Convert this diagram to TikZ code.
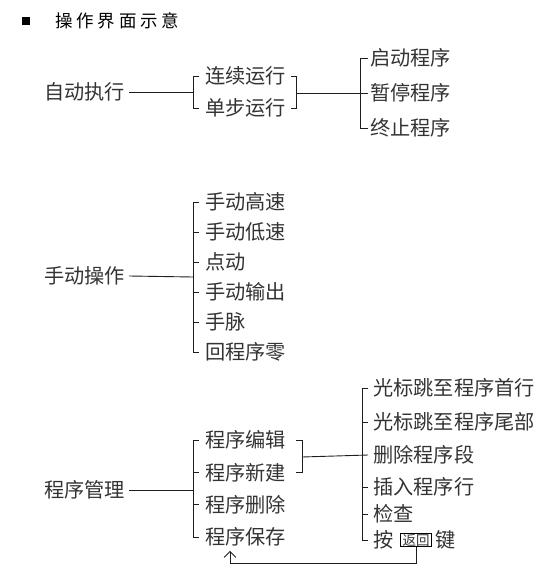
\documentclass[tikz,border=0pt]{standalone}
\usepackage{fontspec}
\newfontfamily\cjk{Noto Sans CJK SC}
\newfontfamily\cjkhead[LetterSpace=22]{Noto Sans CJK SC}
\usetikzlibrary{positioning,calc,arrows,arrows.meta}
\definecolor{ink}  {HTML}{333333}
\definecolor{wire} {HTML}{1E1E1E}
\tikzset{
  >={Straight Barb[length=6pt,width=12pt,line width=0.9pt]},
  every node/.style={inner sep=0pt},
  % --- nodes
  item/.style   = {anchor=west, font=\cjk\fontsize{20.2}{21}\selectfont, text=ink},
  head/.style   = {anchor=west, font=\cjkhead\fontsize{17.5}{18}\selectfont, text=black},
  keybox/.style = {draw=black, line width=1pt, inner xsep=2pt, inner ysep=0.6pt,
                   font=\cjk\fontsize{13.5}{14}\selectfont, text=ink},
  % --- edges
  w/.style      = {draw=wire, line width=0.9pt},
  wa/.style     = {w, ->},
}
\begin{document}
\begin{tikzpicture}[x=1pt,y=-1pt]
  \useasboundingbox (0,0) rectangle (554,575);
  % title
  \node[fill=black, minimum size=8pt] (sq) at (26,21) {};
  \node[head] (ttl) at (55,21) {操作界面示意};

  % auto run
  \node[item] (zdzx) at (44,92) {自动执行};
  \node[item] (lxyx) at (205,76) {连续运行};
  \node[item] (dbyx) at (205,108) {单步运行};
  \node[item] (qdcx) at (370,58) {启动程序};
  \node[item] (ztcx) at (370,93) {暂停程序};
  \node[item] (zzcx) at (370,128) {终止程序};
  \coordinate (s1) at (193,92);
  \coordinate (r1) at (296,93);
  \draw[w] ([xshift=4pt]zdzx.east) -- (s1);
  \draw[w] ([xshift=-6pt]lxyx.west) -- ++(-6,0) |- ([xshift=-6pt]dbyx.west);
  \draw[w] ([xshift=5pt]lxyx.east) -- (r1 |- lxyx.east) |- ([xshift=5pt]dbyx.east);
  \draw[w] (r1) -- ([xshift=-2pt]ztcx.west);
  \draw[w] ([xshift=-2pt]qdcx.west) -- ++(-8,0) |- ([xshift=-2pt]zzcx.west);

  % manual
  \node[item] (sdcz) at (44,276) {手动操作};
  \foreach \t [count=\i] in {手动高速,手动低速,点动,手动输出,手脉,回程序零}
    \node[item] (sd\i) at (205,{172+30*\i}) {\t};
  \coordinate (s2) at (193,277);
  \draw[w] ([xshift=4pt]sdcz.east) -- (s2);
  \draw[w] ([xshift=-6pt]sd1.west) -- ++(-6,0) |- ([xshift=-6pt]sd6.west);
  \foreach \i in {2,...,5}
    \draw[w] ([xshift=-12pt]sd\i.west) -- ++(6,0);

  % program management
  \node[item] (cxgl) at (44,490) {程序管理};
  \foreach \t [count=\i] in {程序编辑,程序新建,程序删除,程序保存}
    \node[item] (gl\i) at (205,{407.6+32.4*\i}) {\t};
  \coordinate (s3) at (193,490);
  \draw[w] ([xshift=4pt]cxgl.east) -- (s3);
  \draw[w] ([xshift=-6pt]gl1.west) -- ++(-6,0) |- ([xshift=-6pt]gl4.west);
  \foreach \i in {2,3}
    \draw[w] ([xshift=-12pt]gl\i.west) -- ++(6,0);
  \coordinate (r3) at (302,457);
  \draw[w] ([xshift=10pt]gl1.east) -- (r3 |- gl1.east) |- ([xshift=10pt]gl2.east);

  \node[item] (gb1) at (373,388) {光标跳至程序首行};
  \node[item] (gb2) at (373,422) {光标跳至程序尾部};
  \node[item] (scd) at (373,455) {删除程序段};
  \node[item] (crh) at (373,487) {插入程序行};
  \node[item] (jc)  at (373,514) {检查};
  \node[item] (an)  at (373,540) {按};
  \node[keybox, right=6.5pt of an] (fh) {返回};
  \node[item, right=3pt of fh] (jian) {键};
  \draw[w] (r3) -- ([xshift=-5pt]scd.west);
  \draw[w] ([xshift=-5pt]gb1.west) -- ++(-6,0) |- ([xshift=-5pt]an.west);
  \foreach \n in {gb2,crh,jc}
    \draw[w] ([xshift=-11pt]\n.west) -- ++(6,0);
  \draw[wa] (fh.south) -- ++(0,16) -| ([xshift=25pt,yshift=-4pt]gl4.south west);
\end{tikzpicture}
\end{document}
